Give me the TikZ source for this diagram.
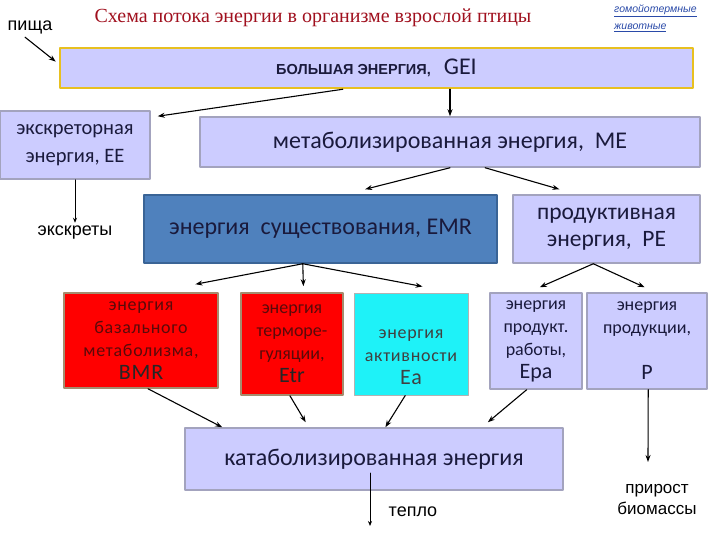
\documentclass[tikz,border=0pt]{standalone}
\usepackage{fontspec}
\setmainfont{Carlito}
\newfontfamily\arialfont{Liberation Sans}
\newfontfamily\timesfont{Liberation Serif}
\newfontfamily\spacedfont[LetterSpace=4]{Carlito}
\usetikzlibrary{calc,arrows.meta}
\definecolor{lavender}{HTML}{CCCCFF}
\definecolor{lavedge}{HTML}{A3A3BE}
\definecolor{goldedge}{HTML}{E8C020}
\definecolor{steelblue}{HTML}{4F81BD}
\definecolor{steeledge}{HTML}{3A6496}
\definecolor{redbox}{HTML}{FF0000}
\definecolor{tanedge}{HTML}{A58C6E}
\definecolor{cyanbox}{HTML}{1EF2F8}
\definecolor{navytext}{HTML}{1A1A3C}
\definecolor{redtext}{HTML}{5A0A0A}
\definecolor{titlered}{HTML}{A0101E}
\definecolor{linkblue}{HTML}{2A4AA8}
\tikzset{
    box/.style={
        draw=lavedge, fill=lavender, line width=1.5pt,
        inner sep=0pt, align=center, text=navytext
    },
    redbx/.style={box, draw=tanedge, fill=redbox, text=redtext},
    bigtxt/.style={font=\fontsize{24}{30}\selectfont},
    smalltxt/.style={font=\fontsize{18}{23}\selectfont},
    spacedtxt/.style={font=\spacedfont\fontsize{18}{23}\selectfont},
    plaintxt/.style={font=\arialfont\fontsize{18}{21}\selectfont},
    flow/.style={-{Stealth[length=7pt,width=5pt]}, line width=1.1pt},
    thinflow/.style={-{Stealth[length=5pt,width=4pt]}, line width=0.7pt}
}

\begin{document}
\begin{tikzpicture}[x=1pt,y=-1pt, line cap=round, line join=round]

\useasboundingbox (0,0) rectangle (720,540);

\def\big#1{{\fontsize{22}{23}\selectfont #1}}

% headings
\node[font=\timesfont\fontsize{20}{22}\selectfont, text=titlered] (title) at (313,18)
  {Схема потока энергии в организме взрослой птицы};
\node[plaintxt] (food) at (30,27) {пища};
\node[font=\arialfont\itshape\fontsize{10.5}{17}\selectfont, text=linkblue, align=left,
  anchor=west, inner sep=0pt] (link) at (614,18)
  {\underline{гомойотермные}\\\underline{животные}};

% top row
\node[box, draw=goldedge, line width=2.5pt, minimum width=633pt, minimum height=40pt] (gei) at (376.5,68)
  {{\arialfont\bfseries\fontsize{14.5}{16}\selectfont БОЛЬШАЯ ЭНЕРГИЯ,}\hspace{13pt}{\fontsize{24}{26}\selectfont GEI}};
\node[box, minimum width=150pt, minimum height=68pt, font=\fontsize{20.5}{28}\selectfont] (ee) at (75,145)
  {экскреторная\\энергия, EE};
\node[box, bigtxt, minimum width=500pt, minimum height=50pt] (me) at (450,142)
  {метаболизированная энергия,\ \ ME};
\node[plaintxt] (excr) at (75,233) {экскреты};

% second row
\node[box, bigtxt, draw=steeledge, fill=steelblue, minimum width=353pt, minimum height=68pt] (emr) at (320.5,229)
  {энергия\ \ существования, EMR};
\node[box, font=\fontsize{23.5}{27}\selectfont, minimum width=187pt, minimum height=68pt] (pe) at (606.5,229)
  {продуктивная\\энергия,\ \ PE};

% third row
\node[redbx, spacedtxt, minimum width=154pt, minimum height=95pt] (bmr) at (141,340.5)
  {энергия\\базального\\метаболизма,\\\big{\textcolor{black!85}{BMR}}};
\node[redbx, smalltxt, minimum width=102pt, minimum height=102pt] (etr) at (292,344)
  {энергия\\терморе-\\гуляции,\\\big{\textcolor{black!85}{Etr}}};
\node[box, spacedtxt, draw=black!30, line width=1pt, fill=cyanbox, text=black!75, minimum width=114pt, minimum height=102pt] (ea) at (411,344)
  {\mbox{}\\[12pt]энергия\\активности\\\big{Ea}};
\node[box, smalltxt, minimum width=92pt, minimum height=96pt] (epa) at (536,341)
  {энергия\\продукт.\\работы,\\\big{Epa}};
\node[box, smalltxt, minimum width=120pt, minimum height=96pt] (p) at (647,341)
  {энергия\\продукции,\\\mbox{}\\\big{P}};

% bottom
\node[box, bigtxt, minimum width=378pt, minimum height=62pt] (cat) at (374,459)
  {катаболизированная энергия};
\node[plaintxt] (heat) at (413,512) {тепло};
\node[plaintxt, font=\arialfont\fontsize{17}{21}\selectfont, align=center] (growth) at (657,500) {прирост\\биомассы};
\coordinate (heatend) at (370,526);
\coordinate (growthend) at (648,462);

% arrows
\draw[flow] ($(food.south)+(-5,0)$) -- ($(gei.north west)!0.35!(gei.south west)+(-3,0)$);
\draw[flow] (me.north |- gei.south) -- (me.north);
\draw[flow] ($(gei.south west)!0.447!(gei.south east)$) -- ($(ee.north east)+(7,6)$);
\draw[thinflow] (ee.south) -- (excr.north);
\draw[flow] (me.south) -- ($(emr.north west)!0.626!(emr.north east)+(0,-5)$);
\draw[flow] ($(me.south west)!0.57!(me.south east)$) -- ($(pe.north west)!0.25!(pe.north east)+(0,-5)$);

\draw[flow] ($(emr.south west)!0.45!(emr.south east)$) -- ($(bmr.north west)!0.85!(bmr.north east)+(0,-8)$);
\draw[flow] ($(emr.south west)!0.45!(emr.south east)$) -- ($(etr.north west)!0.61!(etr.north east)+(0,-6)$);
\draw[flow] ($(emr.south west)!0.45!(emr.south east)$) -- ($(ea.north west)!0.6!(ea.north east)+(0,-6)$);
\draw[flow] ($(pe.south west)!0.43!(pe.south east)$) -- ($(epa.north west)!0.54!(epa.north east)+(0,-5)$);
\draw[flow] ($(pe.south west)!0.43!(pe.south east)$) -- ($(p.north west)!0.48!(p.north east)+(0,-5)$);

\draw[flow] ($(bmr.south west)!0.545!(bmr.south east)$) -- ($(cat.north west)!0.1!(cat.north east)$);
\draw[flow] ($(etr.south west)!0.48!(etr.south east)$) -- ($(cat.north west)!0.32!(cat.north east)+(0,-5)$);
\draw[flow] ($(ea.south west)!0.45!(ea.south east)$) -- ($(cat.north west)!0.53!(cat.north east)$);
\draw[flow] ($(epa.south west)!0.4!(epa.south east)$) -- ($(cat.north west)!0.8!(cat.north east)+(0,-5)$);
\draw[flow] ($(p.south west)!0.51!(p.south east)$) -- (growthend);
\draw[thinflow] ($(cat.center)+(-4,14)$) -- (heatend);

\end{tikzpicture}
\end{document}
